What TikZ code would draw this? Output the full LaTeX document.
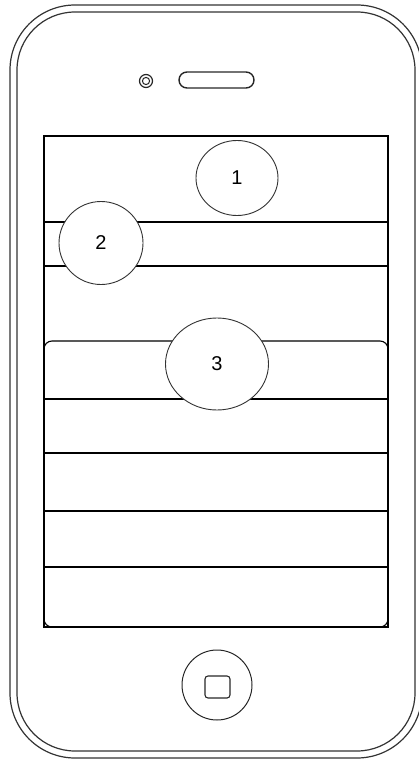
\documentclass[tikz,border=0pt]{standalone}
\usepackage{fontspec}
\setmainfont{Liberation Sans}
\usetikzlibrary{shapes.geometric}
\begin{document}
\begin{tikzpicture}[x=1pt,y=-1pt,
  body/.style={draw=black!80,line width=1.2pt},
  scr/.style={draw=black,line width=1.1pt},
  badge/.style={ellipse,draw=black!80,line width=0.9pt,fill=white,inner sep=0pt,font=\fontsize{20}{24}\selectfont},
  part/.style={draw=black!85,line width=1.1pt}]
\useasboundingbox (0,0) rectangle (418,760);
% phone body
\draw[body,rounded corners=65] (10,5) rectangle (422,758);
\draw[body,rounded corners=58] (17,12) rectangle (415,751);
% camera and speaker
\draw[part,line width=1.2pt] (146,81) circle (6.5);
\draw[part,line width=1pt] (146,81) circle (3.6);
\draw[part,line width=1.4pt,rounded corners=8] (179,72) rectangle (254,88);
% screen
\draw[scr] (44,136) rectangle (388,627);
\draw[scr] (44,222) -- (388,222);
\draw[scr] (44,266) -- (388,266);
\draw[scr,rounded corners=8] (44,341) rectangle (388,627);
\foreach \yy in {399,453,511,567} \draw[scr] (44,\yy) -- (388,\yy);
% badges
\node[badge,minimum width=82,minimum height=75] (b1) at (237,178) {1};
\node[badge,minimum width=84,minimum height=83] (b2) at (101,243) {2};
\node[badge,minimum width=103,minimum height=92] (b3) at (217,364) {3};
% home button
\node[circle,draw=black!85,line width=1pt,minimum size=70,inner sep=0pt] (home) at (217,685) {};
\draw[part,line width=1.1pt,rounded corners=3] (205,676) rectangle (230,698);
\end{tikzpicture}
\end{document}
